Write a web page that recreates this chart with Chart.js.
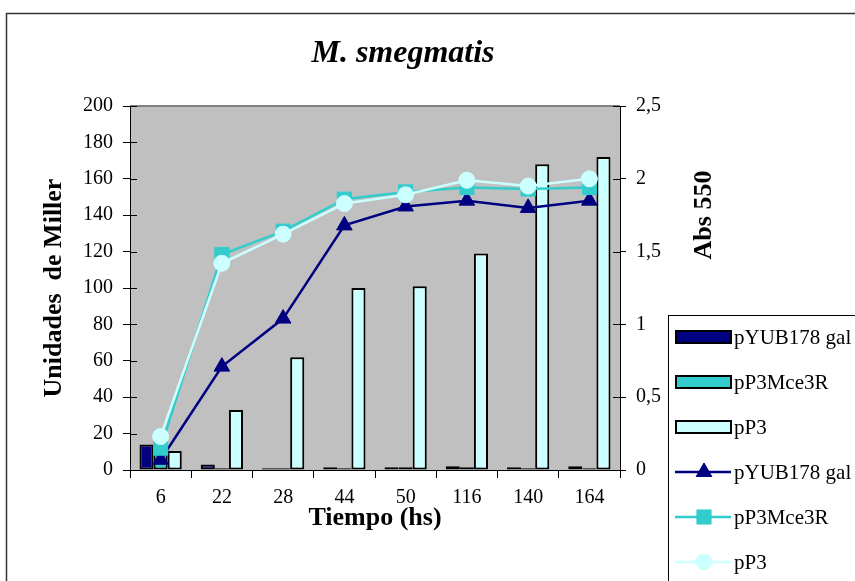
<!DOCTYPE html>
<html>
<head>
<meta charset="utf-8">
<script src="https://cdn.jsdelivr.net/npm/chart.js@4/dist/chart.umd.min.js"></script>
<style>
  body { margin: 0; background: #fff; }
  canvas { display: block; }
</style>
</head>
<body>
<canvas id="chart" width="855" height="581"></canvas>
<script>
const tiempos = ['6', '22', '28', '44', '50', '116', '140', '164'];

// Unidades de Miller (barras, eje izquierdo)
const millerYub = [14, 3, 1, 1.5, 1.5, 2, 1.5, 2];
const millerMce = [9, 1, 1, 1, 1.5, 1.5, 1, 1];
const millerP3 = [10.5, 33, 62, 100, 101, 119, 168, 172];

// Abs 550 (lineas, eje derecho)
const absYub = [0.07, 0.71, 1.04, 1.68, 1.81, 1.85, 1.80, 1.85];
const absMce = [0.15, 1.48, 1.64, 1.86, 1.91, 1.94, 1.93, 1.94];
const absP3 = [0.23, 1.42, 1.62, 1.83, 1.89, 1.99, 1.95, 2.00];

const NAVY = '#000080';
const TEAL = '#33CCCC';
const PALE = '#CCFFFF';
const FONT = '"Liberation Serif", "Times New Roman", serif';

const barSet = (label, data, color, order) => ({
  type: 'bar',
  label,
  data,
  yAxisID: 'y',
  backgroundColor: color,
  borderColor: '#000',
  borderWidth: 2,
  borderSkipped: false,
  categoryPercentage: 0.69,
  barPercentage: 1.0,
  order
});

const lineSet = (label, data, color, pointStyle, radius, order) => ({
  type: 'line',
  label,
  data,
  yAxisID: 'y1',
  borderColor: color,
  backgroundColor: color,
  borderWidth: 2.5,
  pointStyle,
  pointRadius: radius,
  pointBorderWidth: 1,
  pointBorderColor: color,
  pointBackgroundColor: color,
  tension: 0,
  order
});

const decoPlugin = {
  id: 'deco',
  beforeDraw(chart) {
    const { ctx, chartArea: a } = chart;
    ctx.save();
    ctx.fillStyle = '#fff';
    ctx.fillRect(0, 0, chart.width, chart.height);
    ctx.fillStyle = '#C0C0C0';
    ctx.fillRect(a.left, a.top, a.right - a.left, a.bottom - a.top);
    ctx.strokeStyle = '#808080';
    ctx.lineWidth = 2;
    ctx.beginPath();
    ctx.moveTo(a.left, a.top);
    ctx.lineTo(a.right, a.top);
    ctx.stroke();
    ctx.strokeStyle = '#333';
    ctx.lineWidth = 1.5;
    ctx.strokeRect(6.5, 13.5, chart.width + 10, chart.height + 10);
    ctx.restore();
  },
  beforeDatasetsDraw(chart) {
    // marcas de eje hacia adentro
    const { ctx, chartArea: a, scales } = chart;
    ctx.save();
    ctx.strokeStyle = '#000';
    ctx.lineWidth = 1;
    ctx.beginPath();
    scales.y.ticks.forEach((t, i) => {
      const py = Math.round(scales.y.getPixelForTick(i)) + 0.5;
      ctx.moveTo(a.left, py);
      ctx.lineTo(a.left + 7, py);
    });
    scales.y1.ticks.forEach((t, i) => {
      const py = Math.round(scales.y1.getPixelForTick(i)) + 0.5;
      ctx.moveTo(a.right - 7, py);
      ctx.lineTo(a.right, py);
    });
    ctx.stroke();
    ctx.restore();
  },
  afterDraw(chart) {
    const { ctx, chartArea: a } = chart;
    ctx.save();
    ctx.fillStyle = '#000';
    ctx.textAlign = 'center';
    ctx.textBaseline = 'middle';

    ctx.font = 'italic bold 32px ' + FONT;
    ctx.fillText('M. smegmatis', 403, 54);

    ctx.font = 'bold 26px ' + FONT;
    ctx.fillText('Tiempo (hs)', (a.left + a.right) / 2, 518);

    ctx.save();
    ctx.translate(54, (a.top + a.bottom) / 2);
    ctx.rotate(-Math.PI / 2);
    ctx.fillText('Unidades  de Miller', 0, 0);
    ctx.restore();

    ctx.save();
    ctx.translate(704, 215);
    ctx.rotate(-Math.PI / 2);
    ctx.fillText('Abs 550', 0, 0);
    ctx.restore();

    // leyenda
    const lx = 668, ly = 315;
    ctx.fillStyle = '#fff';
    ctx.fillRect(lx, ly, chart.width - lx + 5, chart.height - ly + 5);
    ctx.strokeStyle = '#000';
    ctx.lineWidth = 1;
    ctx.strokeRect(lx + 0.5, ly + 0.5, chart.width, chart.height);

    ctx.font = '21px ' + FONT;
    ctx.textAlign = 'left';
    chart.data.datasets.forEach((ds, row) => {
      const y = 337 + row * 45;
      if (ds.type === 'bar') {
        ctx.fillStyle = ds.backgroundColor;
        ctx.fillRect(676, y - 6, 55, 12);
        ctx.strokeStyle = '#000';
        ctx.lineWidth = 2;
        ctx.strokeRect(676, y - 6, 55, 12);
      } else {
        ctx.strokeStyle = ds.borderColor;
        ctx.lineWidth = 2.5;
        ctx.beginPath();
        ctx.moveTo(675, y);
        ctx.lineTo(731, y);
        ctx.stroke();
        ctx.fillStyle = ds.pointBackgroundColor;
        ctx.lineWidth = 1;
        Chart.helpers.drawPoint(ctx, {
          pointStyle: ds.pointStyle,
          radius: ds.pointRadius,
          rotation: 0,
          borderWidth: 1
        }, 704, y);
      }
      ctx.fillStyle = '#000';
      ctx.fillText(ds.label, 734, y + 1);
    });
    ctx.restore();
  }
};

new Chart(document.getElementById('chart'), {
  type: 'bar',
  data: {
    labels: tiempos,
    datasets: [
      barSet('pYUB178 gal', millerYub, NAVY, 4),
      barSet('pP3Mce3R', millerMce, TEAL, 5),
      barSet('pP3', millerP3, PALE, 6),
      lineSet('pYUB178 gal', absYub, NAVY, 'triangle', 9, 3),
      lineSet('pP3Mce3R', absMce, TEAL, 'rect', 10, 2),
      lineSet('pP3', absP3, PALE, 'circle', 8, 1)
    ]
  },
  options: {
    responsive: false,
    animation: false,
    events: [],
    layout: { padding: { top: 106, left: 0, right: 0, bottom: 0 } },
    plugins: {
      legend: { display: false },
      title: { display: false },
      tooltip: { enabled: false }
    },
    scales: {
      x: {
        grid: { offset: true, drawOnChartArea: false, tickLength: 8, color: '#000' },
        border: { color: '#000', width: 1 },
        ticks: { color: '#000', font: { family: FONT, size: 20 }, padding: 8, maxRotation: 0 },
        afterFit: (s) => { s.height = 111; }
      },
      y: {
        position: 'left',
        min: 0,
        max: 200,
        grid: { drawOnChartArea: false, tickLength: 7, color: '#000' },
        border: { color: '#000', width: 1 },
        ticks: { stepSize: 20, color: '#000', font: { family: FONT, size: 20 }, padding: 10 },
        afterFit: (s) => { s.width = 130; }
      },
      y1: {
        position: 'right',
        min: 0,
        max: 2.5,
        grid: { drawOnChartArea: false, tickLength: 6, color: '#000' },
        border: { color: '#000', width: 1 },
        ticks: {
          stepSize: 0.5,
          color: '#000',
          font: { family: FONT, size: 20 },
          padding: 10,
          callback: (v) => String(v).replace('.', ',')
        },
        afterFit: (s) => { s.width = 235; }
      }
    }
  },
  plugins: [decoPlugin]
});
</script>
</body>
</html>
